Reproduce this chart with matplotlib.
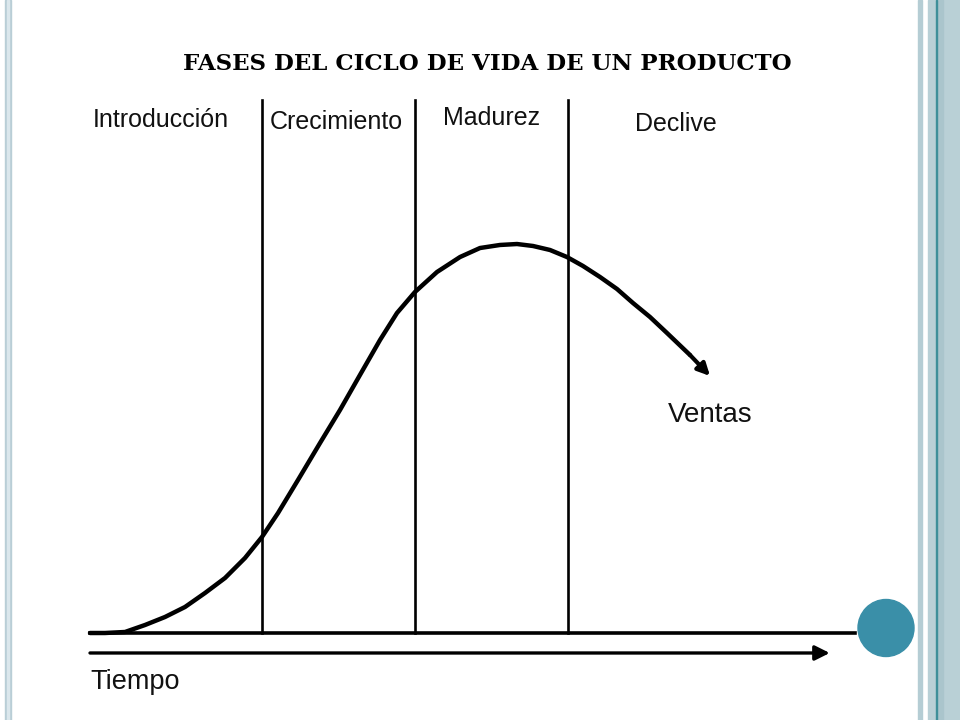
import matplotlib
matplotlib.use('Agg')
import matplotlib.pyplot as plt
from matplotlib.patches import Rectangle, Ellipse

# sales curve (time 0-100, sales 0-100)
tiempo = [0, 1.96, 4.58, 7.19, 9.80, 12.42, 15.03, 17.65, 20.26, 22.48,
          24.58, 27.19, 30.07, 32.68, 35.29, 37.91, 40.13, 42.48, 45.36,
          48.37, 50.98, 53.59, 55.82, 57.91, 60.13, 62.35, 64.44, 66.67,
          68.89, 70.98, 73.20, 75.42, 78.43]
ventas = [0, 0, 0.19, 1.50, 3.00, 4.88, 7.50, 10.32, 14.07, 18.01,
          22.51, 28.71, 35.65, 41.84, 48.41, 54.97, 60.04, 63.98, 67.73,
          70.54, 72.23, 72.80, 72.98, 72.61, 71.86, 70.54, 68.86, 66.79,
          64.54, 61.91, 59.29, 56.29, 52.16]
ventas_fin = (81.05, 48.22)   # tip of the arrow

fases = ['Introducción', 'Crecimiento', 'Madurez', 'Declive']
limites = [22.5, 42.5, 62.5]

titulo = 'FASES DEL CICLO DE VIDA DE UN PRODUCTO'

fig = plt.figure(figsize=(9.6, 7.2), dpi=100)
fig.patch.set_facecolor('white')

# slide decoration
fig.patches.append(Rectangle((5/960, 0), 6/960, 1, transform=fig.transFigure,
                             color='#b9ced6', zorder=0))
fig.patches.append(Rectangle((7/960, 0), 2/960, 1, transform=fig.transFigure,
                             color='#dbe7ec', zorder=0))
fig.patches.append(Rectangle((918/960, 0), 4/960, 1, transform=fig.transFigure,
                             color='#b5cdd4', zorder=0))
fig.patches.append(Rectangle((928/960, 0), 32/960, 1, transform=fig.transFigure,
                             color='#b9d0d6', zorder=0))
fig.patches.append(Rectangle((937/960, 0), 6/960, 1, transform=fig.transFigure,
                             color='#aac5cc', zorder=0))
fig.patches.append(Rectangle((935.5/960, 0), 1.5/960, 1, transform=fig.transFigure,
                             color='#3e8f99', zorder=0))
fig.patches.append(Ellipse((886/960, 1 - 628/720), 56/960, 57/720,
                           transform=fig.transFigure, color='#3a8fa8', zorder=5))

fig.text(487/960, 1 - 64/720, titulo, ha='center', va='center',
         fontsize=16.5, fontweight='bold', family='DejaVu Serif')

ax = fig.add_axes([90/960, 87/720, 765/960, 533/720])
ax.set_xlim(0, 100)
ax.set_ylim(0, 100)
ax.axis('off')

# phase separators
for x in limites:
    ax.plot([x, x], [0, 100], color='black', lw=1.9, clip_on=False)

# baseline
ax.plot([0, 100], [0, 0], color='black', lw=2.6, clip_on=False)

# time arrow
ax.annotate('', xy=(96.7, -3.75), xytext=(0, -3.75), xycoords='data',
            arrowprops=dict(arrowstyle='-|>', lw=2.4, color='black',
                            mutation_scale=22, shrinkA=0, shrinkB=0),
            annotation_clip=False)
ax.text(0, -9.2, 'Tiempo', ha='left', va='center', fontsize=19.5,
        family='Liberation Sans', color='#111111')

# sales curve
ax.plot(tiempo, ventas, color='black', lw=3.2, solid_capstyle='round',
        solid_joinstyle='round', clip_on=False)
ax.annotate('', xy=ventas_fin, xytext=(tiempo[-1], ventas[-1]),
            arrowprops=dict(arrowstyle='-|>', lw=3.0, color='black',
                            mutation_scale=18, shrinkA=0, shrinkB=0),
            annotation_clip=False)
ax.text(75.6, 40.9, 'Ventas', ha='left', va='center', fontsize=20,
        family='Liberation Sans', color='#111111')

# phase labels
lab_x = [0.3, 23.5, 46.1, 71.2]
lab_y = [96.2, 95.9, 96.6, 95.5]
for name, x, y in zip(fases, lab_x, lab_y):
    ax.text(x, y, name, ha='left', va='center', fontsize=18,
            family='Liberation Sans', color='#111111')

fig.savefig('out.png', dpi=100, facecolor='white')
